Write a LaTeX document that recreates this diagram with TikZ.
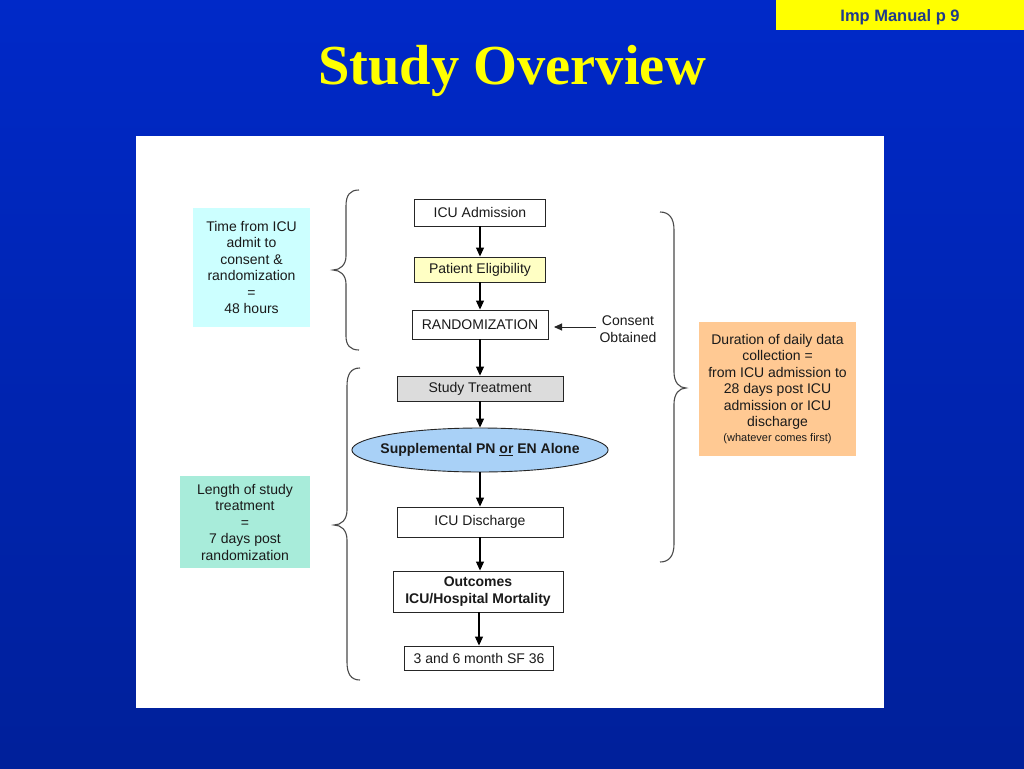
\documentclass[tikz,border=0pt]{standalone}
\usepackage{fontspec}
\setmainfont{Liberation Sans}
\newfontfamily\titlefont{Liberation Serif}
\usetikzlibrary{shapes.geometric,arrows.meta}
\definecolor{bgtop}{HTML}{0029C8}
\definecolor{bgbot}{HTML}{00209A}
\definecolor{ttl}{HTML}{FFFF00}
\definecolor{impblue}{HTML}{1F3A8C}
\definecolor{txt}{HTML}{1A1A1A}
\definecolor{cyanbox}{HTML}{CCFFFF}
\definecolor{mintbox}{HTML}{A8ECDA}
\definecolor{peachbox}{HTML}{FFC993}
\definecolor{eligfill}{HTML}{FFFFC4}
\definecolor{grayfill}{HTML}{DCDCDC}
\definecolor{ellfill}{HTML}{A9D1F7}
\definecolor{bracecol}{HTML}{4A4A4A}
\begin{document}
\begin{tikzpicture}[x=1pt,y=-1pt,
  fs/.style={font=\fontsize{14}{16.5}\selectfont},
  flowbox/.style={draw=black!85, line width=0.9pt, text=txt, fs, inner sep=0pt, align=center},
  notebox/.style={text=txt, fs, inner sep=0pt, align=center},
  flowarrow/.style={draw=black, line width=1.1pt, -{Triangle[width=8pt,length=9pt]}},
  bracestyle/.style={draw=bracecol, line width=1.1pt}
]
\useasboundingbox (0,0) rectangle (1024,768);
\shade[top color=bgtop, bottom color=bgbot] (0,0) rectangle (1024,768);
% header tag
\fill[ttl] (776,0) rectangle (1024,30);
\node[text=impblue, font=\fontsize{16.5}{18}\selectfont\bfseries, anchor=base] (imp) at (900,22) {Imp Manual p 9};
% title
\node[text=ttl, font=\titlefont\fontsize{56.5}{62}\selectfont\bfseries, anchor=base] (title) at (512,84) {Study Overview};
% white panel
\fill[white] (136,136) rectangle (884,708);

% flow nodes
\node[flowbox, minimum width=131, minimum height=27] (adm) at (480,212.5) {ICU Admission};
\node[flowbox, fill=eligfill, minimum width=131, minimum height=25] (elig) at (480,269.5) {Patient Eligibility};
\node[flowbox, minimum width=136, minimum height=29] (rand) at (480,324.5) {RANDOMIZATION};
\node[flowbox, fill=grayfill, minimum width=166, minimum height=25] (treat) at (480,388.5) {Study Treatment};
\node[flowbox, ellipse, fill=ellfill, inner xsep=-9pt, inner ysep=4pt, minimum height=44, font=\fontsize{14}{16.5}\selectfont\bfseries] (supp) at (480,450) {Supplemental PN \underline{or} EN Alone};
\node[flowbox, minimum width=166, minimum height=30] (disc) at (480,522) {ICU Discharge};
\node[flowbox, minimum width=170, minimum height=41, font=\fontsize{14}{16.5}\selectfont\bfseries] (outc) at (478,591.5) {Outcomes\\ICU/Hospital Mortality};
\node[flowbox, minimum width=149, minimum height=24] (sf) at (479,658) {3 and 6 month SF 36};

\node[notebox] (consent) at (628,329) {Consent\\Obtained};
\coordinate (ctail) at (596,327);
\coordinate (ctip) at (554,327);

% arrows
\draw[flowarrow] (adm.south) -- (adm.south |- elig.north);
\draw[flowarrow] (elig.south) -- (elig.south |- rand.north);
\draw[flowarrow] (rand.south) -- (rand.south |- treat.north);
\draw[flowarrow] (treat.south) -- (treat.south |- supp.north);
\draw[flowarrow] (supp.south) -- (supp.south |- disc.north);
\draw[flowarrow] (disc.south) -- (disc.south |- outc.north);
\draw[flowarrow] (outc.south -| sf.north) -- (sf.north);
\draw[draw=black!85, line width=0.9pt, -{Triangle[width=7pt,length=8pt]}] (ctail) -- (ctip);
% side notes
\node[notebox, fill=cyanbox, minimum width=117, minimum height=119] (n1) at (251.5,267.5)
  {Time from ICU\\admit to\\consent \&\\randomization\\=\\48 hours};
\node[notebox, fill=mintbox, minimum width=130, minimum height=92] (n2) at (245,522)
  {Length of study\\treatment\\=\\7 days post\\randomization};
\node[notebox, fill=peachbox, minimum width=157, minimum height=134] (n3) at (777.5,389)
  {Duration of daily data\\collection =\\from ICU admission to\\28 days post ICU\\admission or ICU\\discharge\\[-2pt]{\fontsize{11}{13}\selectfont(whatever comes first)}};

% braces
\draw[bracestyle] (359,190) .. controls (350,190) and (346,195) .. (346,206) -- (346,256)
  .. controls (346,265) and (340,270) .. (333,270)
  .. controls (340,270) and (346,275) .. (346,284) -- (346,336)
  .. controls (346,345) and (350,350) .. (359,350);
\draw[bracestyle] (360,368) .. controls (351,368) and (347,374) .. (347,386) -- (347,510)
  .. controls (347,520) and (341,525) .. (334,525)
  .. controls (341,525) and (347,530) .. (347,540) -- (347,662)
  .. controls (347,674) and (351,680) .. (360,680);
\draw[bracestyle] (660,212) .. controls (669,212) and (674,218) .. (674,230) -- (674,372)
  .. controls (674,382) and (679,388) .. (686,388)
  .. controls (679,388) and (674,394) .. (674,404) -- (674,544)
  .. controls (674,556) and (669,562) .. (660,562);
\end{tikzpicture}
\end{document}
